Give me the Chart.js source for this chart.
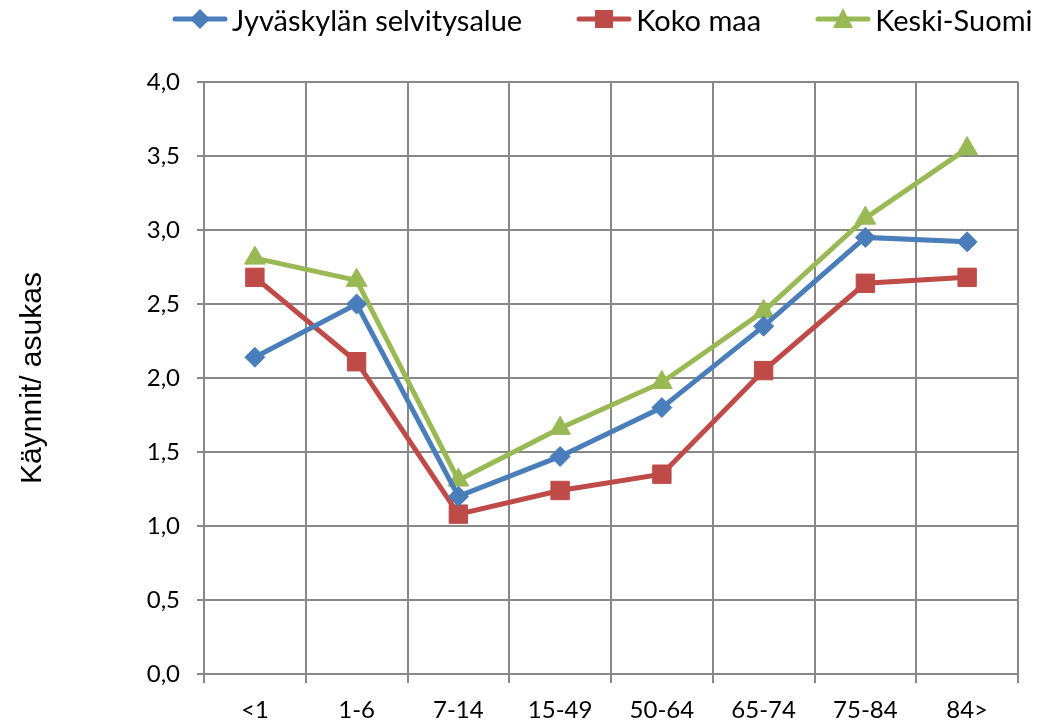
<!DOCTYPE html>
<html>
<head>
<meta charset="utf-8">
<script src="https://cdn.jsdelivr.net/npm/chart.js@4/dist/chart.umd.min.js"></script>
<style>
  html, body { margin: 0; padding: 0; background: #fff; }
  #wrap { position: relative; width: 1048px; height: 723px; overflow: hidden; }
  #legend {
    position: absolute; top: 0; left: 172px; height: 38px; width: 876px;
    display: flex; align-items: center; white-space: nowrap;
    font-family: Lato, sans-serif; font-size: 29px; color: #000;
  }
  .item { display: flex; align-items: center; margin-right: 54px; flex: none; }
  .item svg { margin-right: 4px; flex: none; }
</style>
</head>
<body>
<div id="wrap">
  <canvas id="chart" width="1048" height="723"></canvas>
  <div id="legend"></div>
</div>
<script>
// data
const categories = ['<1', '1-6', '7-14', '15-49', '50-64', '65-74', '75-84', '84>'];
const jyvaskyla = [2.14, 2.50, 1.20, 1.47, 1.80, 2.35, 2.95, 2.92];
const kokoMaa = [2.68, 2.11, 1.08, 1.24, 1.35, 2.05, 2.64, 2.68];
const keskiSuomi = [2.81, 2.66, 1.31, 1.66, 1.97, 2.45, 3.08, 3.55];
const seriesNames = ['Jyväskylän selvitysalue', 'Koko maa', 'Keski-Suomi'];
const seriesColors = ['#4A7EBB', '#BE4B48', '#98B954'];
const pointStyles = ['rectRot', 'rect', 'triangle'];
const pointSizes = [10, 13, 12];
const yTitle = 'Käynnit/ asukas';

const gridColor = '#888888';

function makeDataset(i, values) {
  return {
    label: seriesNames[i],
    data: values,
    borderColor: seriesColors[i],
    backgroundColor: seriesColors[i],
    borderWidth: 5,
    tension: 0,
    pointStyle: pointStyles[i],
    pointRadius: pointSizes[i],
    pointBorderWidth: 1,
    pointBackgroundColor: seriesColors[i],
    pointBorderColor: seriesColors[i]
  };
}

const chartCanvas = document.getElementById('chart');

new Chart(chartCanvas, {
  type: 'line',
  data: {
    labels: categories,
    datasets: [
      makeDataset(0, jyvaskyla),
      makeDataset(1, kokoMaa),
      makeDataset(2, keskiSuomi)
    ]
  },
  options: {
    responsive: false,
    animation: false,
    layout: { padding: { top: 82, right: 30, bottom: 0, left: 0 } },
    plugins: {
      legend: { display: false },
      tooltip: { enabled: false }
    },
    scales: {
      x: {
        type: 'category',
        offset: true,
        grid: { offset: true, color: gridColor, lineWidth: 2, tickLength: 9 },
        border: { color: gridColor, width: 2 },
        ticks: {
          color: '#000',
          padding: 13,
          maxRotation: 0,
          font: { family: 'Lato', size: 24 }
        },
        afterFit: (scale) => { scale.height = 49; }
      },
      y: {
        min: 0,
        max: 4,
        grid: { color: gridColor, lineWidth: 2, tickLength: 7 },
        border: { color: gridColor, width: 2 },
        ticks: {
          stepSize: 0.5,
          color: '#000',
          padding: 17,
          font: { family: 'Lato', size: 24 },
          callback: (v) => v.toFixed(1).replace('.', ',')
        },
        title: {
          display: true,
          text: yTitle,
          color: '#000',
          font: { family: 'Liberation Sans', size: 30 },
          padding: { top: 15, bottom: 0 }
        },
        afterFit: (scale) => { scale.width = 204; }
      }
    }
  }
});

// html legend: line with marker, then the series name
function markerSvg(i) {
  const c = seriesColors[i];
  let shape = '';
  if (pointStyles[i] === 'rectRot') {
    shape = `<polygon points="28,9 38,19 28,29 18,19" fill="${c}"/>`;
  } else if (pointStyles[i] === 'rect') {
    shape = `<rect x="19" y="10" width="18" height="18" fill="${c}"/>`;
  } else {
    shape = `<polygon points="28,8 38,28 18,28" fill="${c}"/>`;
  }
  return `<svg width="56" height="38" viewBox="0 0 56 38">
    <line x1="3" y1="19" x2="53" y2="19" stroke="${c}" stroke-width="5" stroke-linecap="round"/>
    ${shape}</svg>`;
}

const legend = document.getElementById('legend');
seriesNames.forEach((name, i) => {
  const item = document.createElement('div');
  item.classList.add('item');
  item.innerHTML = markerSvg(i) + `<span>${name}</span>`;
  legend.appendChild(item);
});
</script>
</body>
</html>
